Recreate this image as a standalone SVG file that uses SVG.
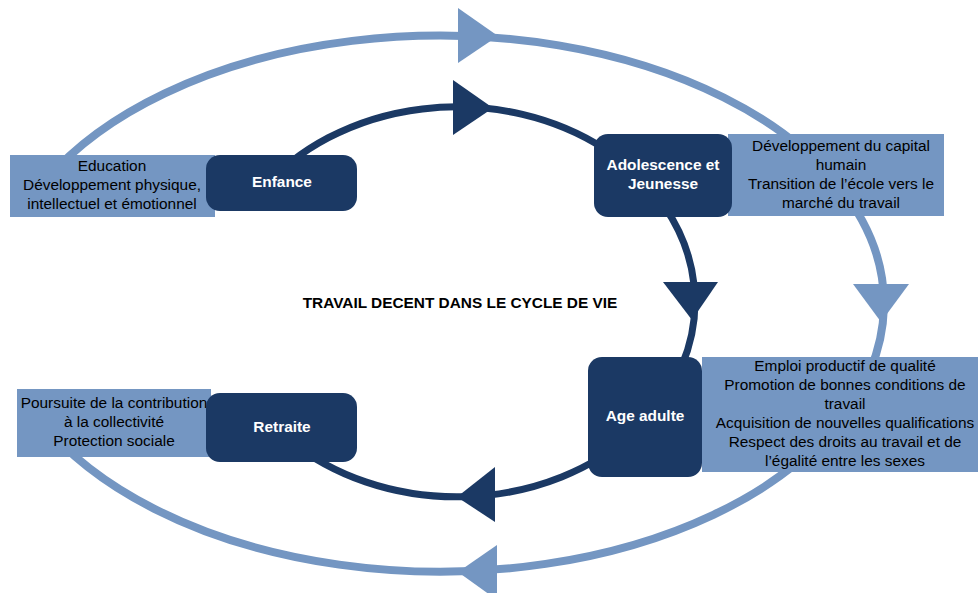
<svg xmlns="http://www.w3.org/2000/svg" width="978" height="593" viewBox="0 0 978 593">
<style>
.outer{fill:none;stroke:#7496C2;stroke-width:8}
.inner{fill:none;stroke:#1B3964;stroke-width:7}
.oh{fill:#7496C2}
.ih{fill:#1B3964}
.lbox{fill:#7496C2}
.dbox{fill:#1B3964}
.lt{font-family:"Liberation Sans",Arial,sans-serif;font-size:15.4px;fill:#000;text-anchor:middle}
.dt{font-family:"Liberation Sans",Arial,sans-serif;font-size:15.4px;font-weight:bold;fill:#fff;text-anchor:middle}
.title{font-family:"Liberation Sans",Arial,sans-serif;font-size:15.4px;font-weight:bold;fill:#000;text-anchor:middle}
</style>
<rect width="978" height="593" fill="#fff"/>
<g id="connectors">
<path class="outer" d="M46,180 A444,268 0 1 1 40,420"/>
<path class="inner" d="M262,190 A238,195 0 1 1 289,440"/>
<polygon class="oh" points="458,8 458,63 498,36"/>
<polygon class="oh" points="853,284 909,284 881,322"/>
<polygon class="oh" points="497,545 497,600 458,572"/>
<polygon class="ih" points="453,80 453,135 493,108"/>
<polygon class="ih" points="663,282 718,282 692,320"/>
<polygon class="ih" points="495,467 495,522 457,497"/>
</g>
<g id="education">
<rect class="lbox" x="10" y="155" width="205" height="62"/>
<text class="lt" x="112" y="171">Education</text>
<text class="lt" x="112" y="190">Développement physique,</text>
<text class="lt" x="112" y="209">intellectuel et émotionnel</text>
</g>
<g id="capital">
<rect class="lbox" x="728" y="134" width="216" height="82"/>
<text class="lt" x="841" y="151">Développement du capital</text>
<text class="lt" x="841" y="170">humain</text>
<text class="lt" x="841" y="189">Transition de l’école vers le</text>
<text class="lt" x="841" y="208">marché du travail</text>
</g>
<g id="emploi">
<rect class="lbox" x="702" y="357" width="276" height="115"/>
<text class="lt" x="845" y="371">Emploi productif de qualité</text>
<text class="lt" x="845" y="390">Promotion de bonnes conditions de</text>
<text class="lt" x="845" y="409">travail</text>
<text class="lt" x="845" y="428">Acquisition de nouvelles qualifications</text>
<text class="lt" x="845" y="447">Respect des droits au travail et de</text>
<text class="lt" x="845" y="466">l’égalité entre les sexes</text>
</g>
<g id="poursuite">
<rect class="lbox" x="17" y="389" width="194" height="68"/>
<text class="lt" x="114" y="408">Poursuite de la contribution</text>
<text class="lt" x="114" y="427">à la collectivité</text>
<text class="lt" x="114" y="446">Protection sociale</text>
</g>
<g id="enfance">
<rect class="dbox" x="206" y="155" width="151" height="56" rx="14"/>
<text class="dt" x="282" y="187">Enfance</text>
</g>
<g id="adolescence">
<rect class="dbox" x="594" y="134" width="138" height="83" rx="14"/>
<text class="dt" x="663" y="170">Adolescence et</text>
<text class="dt" x="663" y="189">Jeunesse</text>
</g>
<g id="adulte">
<rect class="dbox" x="588" y="357" width="114" height="120" rx="14"/>
<text class="dt" x="645" y="421">Age adulte</text>
</g>
<g id="retraite">
<rect class="dbox" x="206" y="393" width="151" height="69" rx="14"/>
<text class="dt" x="282" y="432">Retraite</text>
</g>
<g id="title">
<text class="title" x="460" y="308">TRAVAIL DECENT DANS LE CYCLE DE VIE</text>
</g>
</svg>
